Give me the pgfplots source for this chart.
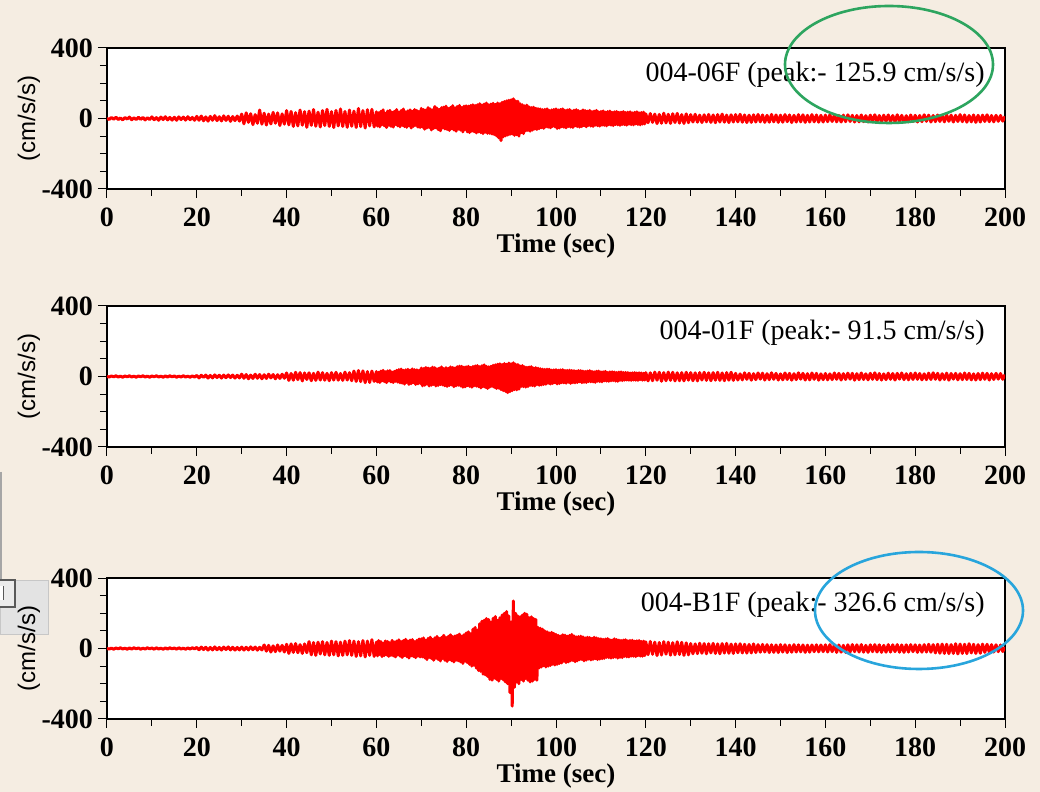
\documentclass[border=0pt]{standalone}
\usepackage{pgfplots}
\usepackage{pgfplotstable}
\pgfplotsset{compat=1.18}
\usepackage{fontspec}
\setmainfont{Liberation Serif}
\newfontfamily\labelsans{Liberation Sans}

\definecolor{paper}{RGB}{245,237,226}
\definecolor{ringgreen}{RGB}{45,165,95}
\definecolor{ringblue}{RGB}{40,165,220}

% acceleration records (cm/s/s): a = 004-06F, b = 004-01F, c = 004-B1F
\pgfplotstableread[row sep=\\]{
t a b c \\
0 0 0 0 \\ 0.5 -5 -3 -3 \\ 1 6 3 2 \\ 1.5 -4 -2 -4 \\ 2 7 4 3 \\ 2.5 -6 -3 -2 \\ 3 3 2 4 \\ 3.5 -8 -4 -3 \\ 4 5 3 2 \\ 4.5 -3 -2 -4 \\
5 8 4 3 \\ 5.5 -7 -3 -3 \\ 6 4 2 4 \\ 6.5 -6 -4 -2 \\ 7 7 3 3 \\ 7.5 -5 -2 -4 \\ 8 6 4 2 \\ 8.5 -8 -3 -3 \\ 9 4 2 4 \\ 9.5 -6 -4 -2 \\
10 9 3 3 \\ 10.5 -7 -2 -4 \\ 11 5 4 4 \\ 11.5 -10 -3 -3 \\ 12 8 2 2 \\ 12.5 -6 -4 -4 \\ 13 10 3 3 \\ 13.5 -8 -3 -3 \\ 14 6 4 4 \\ 14.5 -9 -2 -2 \\
15 7 3 3 \\ 15.5 -10 -4 -4 \\ 16 9 2 4 \\ 16.5 -6 -3 -3 \\ 17 8 4 2 \\ 17.5 -9 -3 -4 \\ 18 10 2 3 \\ 18.5 -7 -4 -3 \\ 19 6 3 4 \\ 19.5 -10 -3 -2 \\
20 12 6 6 \\ 20.5 -10 -8 -7 \\ 21 14 7 8 \\ 21.5 -13 -5 -6 \\ 22 9 8 7 \\ 22.5 -15 -9 -9 \\ 23 12 6 6 \\ 23.5 -10 -8 -8 \\ 24 16 9 9 \\ 24.5 -12 -6 -7 \\
25 10 7 6 \\ 25.5 -14 -9 -9 \\ 26 15 8 8 \\ 26.5 -11 -7 -6 \\ 27 13 9 9 \\ 27.5 -16 -6 -8 \\ 28 11 8 7 \\ 28.5 -12 -9 -9 \\ 29 14 7 6 \\ 29.5 -15 -8 -8 \\
30 25 13 8 \\ 30.5 -30 -10 -9 \\ 31 32 11 7 \\ 31.5 -22 -13 -8 \\ 32 27 8 9 \\ 32.5 -35 -11 -7 \\ 33 22 13 8 \\ 33.5 -27 -10 -9 \\ 34 48 11 7 \\ 34.5 -32 -13 -8 \\
35 30 10 20 \\ 35.5 -37 -11 -15 \\ 36 25 13 18 \\ 36.5 -31 -8 -20 \\ 37 35 11 15 \\ 37.5 -27 -13 -18 \\ 38 32 10 20 \\ 38.5 -40 -11 -15 \\ 39 26 13 18 \\ 39.5 -32 -10 -20 \\
40 45 20 24 \\ 40.5 -36 -22 -28 \\ 41 40 17 26 \\ 41.5 -45 -21 -22 \\ 42 33 24 28 \\ 42.5 -42 -18 -24 \\ 43 48 22 22 \\ 43.5 -38 -25 -28 \\ 44 39 20 26 \\ 44.5 -50 -17 -24 \\
45 42 21 39 \\ 45.5 -39 -24 -36 \\ 46 51 18 34 \\ 46.5 -44 -22 -39 \\ 47 36 25 36 \\ 47.5 -48 -20 -31 \\ 48 45 22 39 \\ 48.5 -40 -21 -36 \\ 49 52 18 34 \\ 49.5 -45 -24 -39 \\
50 39 22 42 \\ 50.5 -51 -20 -36 \\ 51 46 24 39 \\ 51.5 -42 -21 -42 \\ 52 54 17 36 \\ 52.5 -45 -22 -39 \\ 53 40 25 42 \\ 53.5 -50 -20 -36 \\ 54 48 22 45 \\ 54.5 -44 -24 -39 \\
55 42 31 42 \\ 55.5 -51 -28 -45 \\ 56 57 34 39 \\ 56.5 -46 -29 -42 \\ 57 45 32 45 \\ 57.5 -54 -35 -48 \\ 58 50 28 42 \\ 58.5 -42 -34 -39 \\ 59 52 31 50 \\ 59.5 -48 -28 -45 \\
60 38 28 36 \\ 60.25 -43 -31 -42 \\ 60.5 32 24 45 \\ 60.75 -47 -34 -33 \\ 61 41 31 39 \\ 61.25 -35 -25 -46 \\ 61.5 49 35 30 \\ 61.75 -41 -29 -40 \\
62 30 27 43 \\ 62.25 -51 -35 -36 \\ 62.5 42 32 40 \\ 62.75 -38 -24 -45 \\ 63 46 34 33 \\ 63.25 -45 -31 -39 \\ 63.5 35 25 46 \\ 63.75 -49 -34 -42 \\
64 41 29 37 \\ 64.25 -34 -27 -48 \\ 64.5 51 35 42 \\ 64.75 -42 -32 -36 \\ 65 36 39 49 \\ 65.25 -47 -36 -43 \\ 65.5 45 42 39 \\ 65.75 -39 -38 -51 \\
66 54 35 45 \\ 66.25 -46 -43 -40 \\ 66.5 38 38 52 \\ 66.75 -50 -34 -46 \\ 67 43 41 42 \\ 67.25 -41 -45 -54 \\ 67.5 49 36 48 \\ 67.75 -54 -41 -42 \\
68 41 43 51 \\ 68.25 -45 -35 -45 \\ 68.5 51 39 39 \\ 68.75 -39 -45 -52 \\ 69 46 38 46 \\ 69.25 -49 -42 -43 \\ 69.5 39 35 54 \\ 69.75 -51 -39 -48 \\
70 57 48 55 \\ 70.25 -49 -53 -48 \\ 70.5 51 45 60 \\ 70.75 -61 -50 -53 \\ 71 47 51 46 \\ 71.25 -54 -43 -63 \\ 71.5 62 48 57 \\ 71.75 -51 -54 -51 \\
72 54 46 64 \\ 72.25 -65 -50 -57 \\ 72.5 49 53 52 \\ 72.75 -57 -45 -67 \\ 73 68 50 60 \\ 73.25 -53 -54 -55 \\ 73.5 59 43 69 \\ 73.75 -63 -51 -62 \\
74 51 48 57 \\ 74.25 -70 -46 -71 \\ 74.5 61 54 63 \\ 74.75 -54 -48 -57 \\ 75 65 45 75 \\ 75.25 -59 -53 -67 \\ 75.5 70 50 62 \\ 75.75 -62 -56 -74 \\
76 57 46 69 \\ 76.25 -68 -51 -63 \\ 76.5 63 54 78 \\ 76.75 -58 -48 -69 \\ 77 73 51 67 \\ 77.25 -65 -58 -76 \\ 77.5 59 48 71 \\ 77.75 -72 -53 -67 \\
78 68 56 75 \\ 78.25 -61 -50 -70 \\ 78.5 74 59 82 \\ 78.75 -66 -54 -76 \\ 79 62 58 70 \\ 79.25 -76 -61 -85 \\ 79.5 70 53 78 \\ 79.75 -63 -59 -72 \\
80 72 55 88 \\ 80.25 -76 -52 -80 \\ 80.5 70 58 95 \\ 80.75 -80 -56 -90 \\ 81 74 52 84 \\ 81.25 -72 -61 -100 \\ 81.5 78 57 110 \\ 81.75 -75 -53 -96 \\
82 74 60 120 \\ 82.25 -82 -55 -112 \\ 82.5 78 62 105 \\ 82.75 -76 -58 -125 \\ 83 84 56 140 \\ 83.25 -80 -65 -130 \\ 83.5 76 61 155 \\ 83.75 -86 -57 -145 \\
84 82 66 160 \\ 84.25 -78 -62 -150 \\ 84.5 88 58 170 \\ 84.75 -84 -68 -158 \\ 85 78 55 165 \\ 85.25 -84 -60 -175 \\ 85.5 82 58 150 \\ 85.75 -88 -56 -180 \\
86 86 64 172 \\ 86.25 -92 -62 -168 \\ 86.5 80 66 182 \\ 86.75 -98 -68 -175 \\ 87 88 70 160 \\ 87.25 -110 -66 -185 \\ 87.5 84 72 175 \\ 87.75 -126 -74 -170 \\
88 92 68 190 \\ 88.25 -104 -80 -178 \\ 88.5 96 74 200 \\ 88.75 -98 -84 -190 \\ 89 100 70 210 \\ 89.25 -94 -92 -200 \\ 89.5 104 76 185 \\ 89.75 -90 -86 -250 \\
90 106 72 150 \\ 90.25 -88 -80 -327 \\ 90.5 112 78 270 \\ 90.75 -96 -74 -220 \\ 91 100 70 200 \\ 91.25 -92 -76 -190 \\ 91.5 98 68 185 \\ 91.75 -100 -72 -200 \\
92 84 60 180 \\ 92.25 -80 -56 -175 \\ 92.5 78 62 190 \\ 92.75 -86 -58 -185 \\ 93 72 55 200 \\ 93.25 -70 -60 -170 \\ 93.5 76 52 195 \\ 93.75 -68 -57 -180 \\
94 66 54 175 \\ 94.25 -72 -50 -190 \\ 94.5 62 56 180 \\ 94.75 -66 -52 -185 \\ 95 64 48 170 \\ 95.25 -60 -54 -175 \\ 95.5 58 50 165 \\ 95.75 -62 -46 -180 \\
96 56 47 120 \\ 96.25 -58 -50 -110 \\ 96.5 54 44 115 \\ 96.75 -52 -48 -105 \\ 97 50 42 110 \\ 97.25 -56 -45 -98 \\ 97.5 52 40 100 \\ 97.75 -48 -44 -105 \\
98 55 42 95 \\ 98.25 -50 -38 -100 \\ 98.5 46 41 88 \\ 98.75 -53 -43 -96 \\ 99 49 36 92 \\ 99.25 -45 -40 -90 \\ 99.5 51 38 86 \\ 99.75 -47 -35 -94 \\
100 54 39 80 \\ 100.25 -57 -42 -90 \\ 100.5 49 36 75 \\ 100.75 -54 -40 -85 \\ 101 51 38 70 \\ 101.25 -47 -35 -82 \\ 101.5 55 39 78 \\ 101.75 -50 -36 -72 \\
102 46 34 76 \\ 102.25 -53 -38 -80 \\ 102.5 49 35 70 \\ 102.75 -45 -33 -76 \\ 103 51 36 74 \\ 103.25 -49 -39 -70 \\ 103.5 43 34 80 \\ 103.75 -51 -35 -68 \\
104 47 33 72 \\ 104.25 -42 -36 -75 \\ 104.5 50 31 66 \\ 104.75 -46 -34 -70 \\ 105 45 34 68 \\ 105.25 -49 -30 -64 \\ 105.5 41 33 70 \\ 105.75 -46 -35 -62 \\
106 49 31 66 \\ 106.25 -41 -33 -70 \\ 106.5 45 29 60 \\ 106.75 -47 -34 -66 \\ 107 42 31 64 \\ 107.25 -39 -29 -60 \\ 107.5 46 33 62 \\ 107.75 -43 -30 -65 \\
108 39 29 58 \\ 108.25 -45 -31 -62 \\ 108.5 42 27 64 \\ 108.75 -38 -33 -58 \\ 109 46 30 60 \\ 109.25 -41 -27 -63 \\ 109.5 38 31 56 \\ 109.75 -43 -29 -60 \\
110 40 26 55 \\ 110.25 -38 -30 -58 \\ 110.5 43 27 52 \\ 110.75 -39 -25 -56 \\ 111 36 29 54 \\ 111.25 -42 -26 -50 \\ 111.5 39 23 56 \\ 111.75 -35 -27 -52 \\
112 42 26 50 \\ 112.25 -38 -25 -54 \\ 112.5 35 27 48 \\ 112.75 -40 -23 -52 \\ 113 38 25 55 \\ 113.25 -34 -26 -49 \\ 113.5 40 23 51 \\ 113.75 -36 -27 -54 \\
114 35 25 48 \\ 114.25 -39 -22 -50 \\ 114.5 36 26 46 \\ 114.75 -34 -23 -52 \\ 115 39 22 48 \\ 115.25 -35 -21 -45 \\ 115.5 34 23 50 \\ 115.75 -38 -20 -47 \\
116 36 22 44 \\ 116.25 -32 -21 -48 \\ 116.5 38 20 46 \\ 116.75 -35 -22 -43 \\ 117 32 21 47 \\ 117.25 -36 -20 -44 \\ 117.5 35 22 42 \\ 117.75 -31 -21 -46 \\
118 38 20 44 \\ 118.25 -34 -22 -41 \\ 118.5 32 21 45 \\ 118.75 -36 -18 -43 \\ 119 34 20 40 \\ 119.25 -32 -21 -44 \\ 119.5 36 18 42 \\ 119.75 -31 -20 -40 \\
120 26 22 38 \\ 120.5 -24 -25 -35 \\ 121 28 21 40 \\ 121.5 -22 -24 -33 \\ 122 25 25 36 \\ 122.5 -29 -21 -40 \\ 123 23 24 34 \\ 123.5 -27 -27 -37 \\ 124 30 22 39 \\ 124.5 -25 -24 -32 \\
125 24 25 36 \\ 125.5 -28 -22 -38 \\ 126 27 24 33 \\ 126.5 -23 -25 -36 \\ 127 29 21 38 \\ 127.5 -26 -24 -34 \\ 128 22 22 35 \\ 128.5 -28 -25 -39 \\ 129 26 24 32 \\ 129.5 -24 -21 -36 \\
130 22 22 28 \\ 130.5 -20 -24 -30 \\ 131 24 21 26 \\ 131.5 -21 -25 -29 \\ 132 19 22 30 \\ 132.5 -23 -20 -27 \\ 133 21 24 28 \\ 133.5 -19 -22 -30 \\ 134 23 21 27 \\ 134.5 -22 -24 -25 \\
135 20 22 29 \\ 135.5 -24 -21 -28 \\ 136 22 24 26 \\ 136.5 -20 -22 -30 \\ 137 25 20 28 \\ 137.5 -21 -24 -26 \\ 138 19 22 29 \\ 138.5 -23 -21 -27 \\ 139 21 24 25 \\ 139.5 -20 -22 -28 \\
140 22 18 26 \\ 140.5 -19 -20 -24 \\ 141 24 15 27 \\ 141.5 -21 -19 -25 \\ 142 20 21 24 \\ 142.5 -23 -16 -26 \\ 143 19 18 23 \\ 143.5 -22 -21 -25 \\ 144 21 16 26 \\ 144.5 -20 -18 -23 \\
145 23 20 22 \\ 145.5 -19 -15 -21 \\ 146 20 19 23 \\ 146.5 -22 -20 -20 \\ 147 18 16 22 \\ 147.5 -21 -18 -23 \\ 148 23 21 21 \\ 148.5 -19 -16 -22 \\ 149 20 18 20 \\ 149.5 -22 -20 -23 \\
150 19 15 22 \\ 150.5 -21 -19 -20 \\ 151 22 20 21 \\ 151.5 -18 -17 -23 \\ 152 20 18 19 \\ 152.5 -23 -21 -21 \\ 153 18 16 22 \\ 153.5 -20 -18 -20 \\ 154 22 21 21 \\ 154.5 -19 -15 -19 \\
155 21 18 20 \\ 155.5 -22 -20 -22 \\ 156 18 16 19 \\ 156.5 -20 -19 -21 \\ 157 22 20 20 \\ 157.5 -19 -16 -18 \\ 158 20 18 21 \\ 158.5 -21 -21 -19 \\ 159 18 15 20 \\ 159.5 -20 -18 -18 \\
160 19 17 21 \\ 160.5 -18 -19 -20 \\ 161 21 15 22 \\ 161.5 -17 -18 -18 \\ 162 20 20 21 \\ 162.5 -19 -16 -22 \\ 163 17 18 20 \\ 163.5 -20 -20 -21 \\ 164 19 16 18 \\ 164.5 -18 -17 -22 \\
165 21 19 21 \\ 165.5 -17 -15 -20 \\ 166 18 18 22 \\ 166.5 -20 -21 -18 \\ 167 17 16 21 \\ 167.5 -19 -18 -20 \\ 168 20 20 22 \\ 168.5 -18 -17 -21 \\ 169 16 15 18 \\ 169.5 -20 -19 -22 \\
170 19 18 21 \\ 170.5 -17 -16 -18 \\ 171 21 21 22 \\ 171.5 -18 -18 -20 \\ 172 17 17 21 \\ 172.5 -20 -20 -22 \\ 173 19 15 18 \\ 173.5 -16 -18 -21 \\ 174 20 19 22 \\ 174.5 -18 -16 -20 \\
175 17 17 21 \\ 175.5 -19 -20 -18 \\ 176 21 18 22 \\ 176.5 -17 -15 -21 \\ 177 18 20 20 \\ 177.5 -20 -18 -22 \\ 178 16 16 21 \\ 178.5 -19 -19 -20 \\ 179 20 18 22 \\ 179.5 -17 -17 -18 \\
180 18 20 21 \\ 180.5 -20 -16 -22 \\ 181 17 17 20 \\ 181.5 -18 -19 -21 \\ 182 21 15 22 \\ 182.5 -16 -18 -20 \\ 183 19 19 24 \\ 183.5 -20 -17 -21 \\ 184 17 21 22 \\ 184.5 -18 -16 -25 \\
185 20 18 24 \\ 185.5 -17 -20 -27 \\ 186 18 16 25 \\ 186.5 -19 -17 -28 \\ 187 21 19 24 \\ 187.5 -16 -21 -29 \\ 188 19 17 22 \\ 188.5 -20 -15 -28 \\ 189 18 18 27 \\ 189.5 -17 -19 -31 \\
190 22 16 25 \\ 190.5 -18 -18 -28 \\ 191 20 20 24 \\ 191.5 -21 -17 -29 \\ 192 17 18 27 \\ 192.5 -19 -19 -25 \\ 193 20 15 24 \\ 193.5 -22 -20 -28 \\ 194 18 17 22 \\ 194.5 -20 -18 -27 \\
195 19 19 25 \\ 195.5 -17 -16 -22 \\ 196 21 18 24 \\ 196.5 -18 -20 -21 \\ 197 17 16 22 \\ 197.5 -19 -17 -20 \\ 198 18 18 21 \\ 198.5 -16 -15 -18 \\ 199 17 17 20 \\ 199.5 -15 -16 -17 \\
200 12 10 8 \\
}\seis

\pgfplotsset{
  quake/.style={
    scale only axis, width=449pt, height=70.5pt,
    anchor=south west,
    xmin=0, xmax=200, ymin=-400, ymax=400,
    xtick={0,20,...,200}, minor x tick num=1,
    ytick={-400,0,400}, yticklabels={-400,0,400}, minor y tick num=3,
    tick align=outside, xtick pos=bottom, ytick pos=left,
    major tick length=4.5pt, minor tick length=3.5pt,
    every tick/.style={black, line width=0.5pt},
    axis line style={line width=0.6pt},
    axis background/.style={fill=white},
    /pgf/number format/assume math mode=true,
    ticklabel style={font=\fontsize{14}{16}\selectfont\bfseries},
    xticklabel style={yshift=-1.5pt},
    yticklabel style={xshift=1pt},
    xlabel={Time (sec)},
    ylabel={(cm/s/s)},
    every axis x label/.style={at={(axis description cs:0.5,0)}, anchor=base, yshift=-32pt, font=\fontsize{13.5}{16}\selectfont\bfseries},
    every axis y label/.style={at={(axis description cs:-0.0869,0.5)}, rotate=90, anchor=center, font=\fontsize{12}{14}\selectfont\labelsans},
  },
  trace/.style={red, line width=1.5pt, line join=round, no markers},
}
\tikzset{peaknote/.style={anchor=base east, inner sep=0pt, font=\fontsize{14}{16}\selectfont}}

\begin{document}
\begin{tikzpicture}
\useasboundingbox (0pt,0pt) rectangle (520pt,396pt);
\fill[paper] (0pt,0pt) rectangle (520pt,396pt);

% window fragments along the left edge
\draw[gray!70, line width=0.8pt] (0.4pt,160pt) -- (0.4pt,106pt);
\fill[black!11] (0pt,79pt) rectangle (24pt,106pt);
\draw[black!22, line width=0.4pt] (0pt,79pt) rectangle (24pt,106pt);
\fill[black!8] (-2pt,92.5pt) rectangle (7.5pt,106pt);
\draw[black!65, line width=0.9pt] (-2pt,92.5pt) rectangle (7.5pt,106pt);
\fill[white] (-1pt,96pt) rectangle (1.5pt,103pt);
\draw[black!65, line width=0.5pt] (1.5pt,96pt) -- (1.5pt,103pt);

\begin{axis}[quake, at={(53.5pt,301.5pt)}]
  \addplot[trace] table[x=t, y=a] {\seis};
  \node[peaknote] at (rel axis cs:0.9777,0.759) {004-06F (peak:- 125.9 cm/s/s)};
\end{axis}

\begin{axis}[quake, at={(53.5pt,172.5pt)}]
  \addplot[trace] table[x=t, y=b] {\seis};
  \node[peaknote] at (rel axis cs:0.9777,0.759) {004-01F (peak:- 91.5 cm/s/s)};
\end{axis}

\begin{axis}[quake, at={(53.5pt,36.5pt)}]
  \addplot[trace] table[x=t, y=c] {\seis};
  \node[peaknote] at (rel axis cs:0.9777,0.759) {004-B1F (peak:- 326.6 cm/s/s)};
\end{axis}

% highlight rings
\draw[ringgreen, line width=1.3pt] (444.5pt,363.75pt) ellipse [x radius=52pt, y radius=29.25pt];
\draw[ringblue, line width=1.3pt] (459.5pt,90.75pt) ellipse [x radius=52pt, y radius=29.25pt];
\end{tikzpicture}
\end{document}
